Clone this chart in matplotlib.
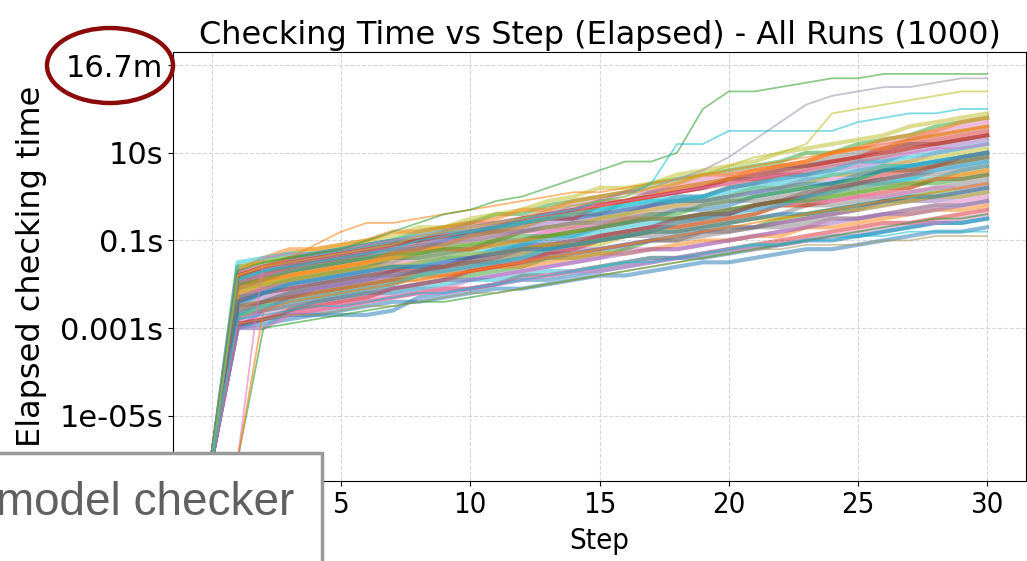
import matplotlib
matplotlib.use('Agg')
import matplotlib.pyplot as plt
import numpy as np
from matplotlib.patches import Ellipse, Rectangle
from matplotlib.ticker import FuncFormatter, FixedLocator

# steps 0..30; each run is elapsed checking time in tenths of log10(seconds)
steps = list(range(31))

band_runs = [
    [-60, -30, -29, -28, -27, -26, -25, -24, -24, -23, -22, -21, -21, -20, -19, -18, -18, -17, -16, -15, -15, -14, -13, -12, -12, -11, -10, -9, -8, -8, -7],
    [-60, -29, -28, -27, -26, -25, -24, -23, -22, -21, -21, -20, -18, -18, -17, -16, -15, -14, -14, -13, -12, -11, -10, -9, -8, -7, -6, -6, -5, -4, -3],
    [-60, -28, -27, -26, -25, -24, -23, -22, -21, -21, -19, -18, -17, -16, -15, -14, -12, -12, -12, -11, -10, -9, -8, -7, -5, -5, -4, -3, -2, -1, 0],
    [-60, -30, -30, -26, -24, -23, -22, -22, -21, -20, -19, -19, -18, -17, -17, -16, -15, -14, -14, -13, -12, -11, -11, -10, -9, -9, -8, -7, -6, -6, -5],
    [-60, -27, -26, -25, -24, -23, -22, -21, -20, -19, -18, -17, -16, -14, -14, -13, -12, -10, -9, -8, -7, -7, -5, -4, -3, -2, -1, 0, 1, 2, 3],
    [-60, -26, -25, -24, -23, -22, -21, -20, -18, -18, -17, -16, -15, -14, -13, -12, -11, -10, -10, -8, -8, -7, -6, -5, -4, -3, -1, -1, 0, 1, 2],
    [-60, -28, -25, -23, -22, -21, -20, -19, -18, -17, -16, -15, -13, -12, -11, -11, -9, -8, -7, -6, -5, -4, -2, -2, 0, 1, 2, 2, 4, 5, 6],
    [-60, -25, -24, -23, -22, -21, -20, -19, -19, -18, -17, -16, -16, -15, -14, -13, -13, -12, -11, -10, -10, -9, -9, -7, -7, -6, -5, -4, -3, -3, -2],
    [-60, -24, -23, -22, -21, -20, -19, -18, -17, -15, -14, -13, -11, -11, -10, -9, -8, -7, -5, -4, -4, -2, -1, 0, 1, 3, 4, 5, 6, 7, 8],
    [-60, -26, -24, -22, -21, -20, -19, -17, -17, -16, -15, -14, -13, -12, -11, -10, -9, -9, -8, -7, -6, -5, -4, -2, -2, -1, 0, 1, 2, 3, 4],
    [-60, -23, -22, -21, -20, -19, -18, -17, -15, -14, -14, -12, -11, -10, -9, -7, -6, -5, -3, -3, -2, 0, 1, 2, 3, 4, 6, 7, 8, 9, 10],
    [-60, -24, -22, -21, -20, -19, -18, -17, -16, -16, -14, -13, -12, -11, -11, -9, -8, -7, -7, -6, -5, -4, -2, -2, -1, 0, 1, 2, 4, 4, 5],
    [-60, -22, -21, -20, -19, -18, -17, -16, -14, -13, -12, -10, -10, -8, -7, -6, -5, -3, -2, -1, 0, 1, 2, 4, 4, 6, 7, 8, 10, 11, 12],
    [-60, -25, -22, -20, -19, -18, -17, -16, -16, -14, -13, -12, -11, -9, -9, -8, -7, -6, -5, -5, -3, -2, -1, 0, 1, 3, 3, 4, 4, 6, 7],
    [-60, -21, -20, -19, -18, -17, -16, -14, -14, -13, -12, -11, -10, -9, -8, -7, -6, -4, -4, -2, -1, 0, 1, 2, 3, 4, 6, 6, 7, 8, 9],
    [-60, -23, -21, -19, -18, -17, -16, -15, -13, -12, -12, -10, -8, -7, -6, -5, -4, -2, -1, 0, 2, 3, 5, 5, 7, 8, 9, 11, 12, 13, 14],
    [-60, -20, -19, -18, -17, -16, -15, -14, -13, -11, -11, -10, -8, -7, -7, -5, -4, -3, -2, -1, 0, 2, 2, 3, 5, 5, 7, 8, 9, 10, 11],
    [-60, -22, -20, -18, -17, -16, -15, -14, -12, -12, -12, -11, -10, -9, -8, -7, -5, -5, -5, -4, -3, -2, -1, -1, 1, 2, 3, 3, 4, 5, 6],
    [-60, -19, -18, -17, -16, -15, -14, -13, -12, -10, -9, -8, -8, -6, -5, -4, -3, -2, 0, 0, 2, 3, 4, 5, 6, 7, 8, 10, 11, 12, 13],
    [-60, -21, -19, -17, -16, -15, -14, -13, -11, -10, -8, -8, -6, -5, -4, -4, -1, 0, 1, 2, 4, 5, 7, 7, 9, 10, 11, 13, 14, 15, 16],
    [-60, -18, -17, -16, -15, -14, -13, -12, -12, -10, -9, -8, -7, -5, -5, -4, -3, -2, -1, -1, 0, 1, 2, 3, 3, 5, 6, 7, 8, 9, 10],
    [-60, -20, -18, -16, -15, -14, -13, -11, -10, -9, -8, -7, -6, -5, -5, -2, -1, 0, 1, 2, 4, 5, 6, 7, 8, 9, 11, 12, 13, 14, 15],
    [-60, -17, -16, -15, -14, -13, -12, -11, -9, -8, -6, -6, -5, -3, -2, -1, 1, 1, 3, 4, 5, 6, 7, 8, 10, 11, 12, 13, 15, 16, 17],
    [-60, -19, -17, -15, -14, -13, -12, -11, -10, -10, -8, -7, -6, -5, -3, -3, -2, -1, 0, 0, 2, 3, 4, 5, 6, 8, 8, 9, 10, 11, 12],
    [-60, -16, -15, -14, -13, -12, -11, -10, -8, -7, -6, -4, -4, -2, -1, 0, 1, 3, 4, 5, 6, 7, 8, 10, 10, 12, 13, 14, 16, 17, 18],
    [-60, -18, -16, -14, -13, -12, -11, -10, -10, -8, -7, -6, -5, -4, -3, -1, -1, 1, 2, 3, 4, 4, 6, 7, 8, 9, 10, 12, 12, 13, 14],
    [-60, -16, -15, -13, -12, -11, -10, -9, -7, -7, -5, -4, -3, -1, 0, 2, 2, 3, 5, 6, 7, 8, 10, 11, 12, 13, 14, 16, 17, 18, 19],
    [-60, -17, -14, -12, -12, -11, -10, -8, -8, -7, -6, -5, -3, -3, -1, 0, 1, 2, 3, 5, 5, 6, 7, 8, 10, 11, 11, 13, 14, 15, 16],
    [-60, -30, -26, -23, -21, -20, -19, -18, -17, -17, -16, -15, -14, -13, -12, -12, -11, -10, -9, -8, -7, -7, -6, -5, -4, -3, -2, -1, -1, 0, 1],
    [-60, -27, -24, -22, -20, -19, -18, -18, -17, -16, -15, -15, -14, -13, -13, -12, -11, -10, -10, -9, -8, -7, -7, -6, -5, -5, -4, -3, -2, -2, -1],
    [-60, -30, -28, -27, -27, -27, -27, -26, -23, -22, -21, -20, -19, -19, -18, -17, -16, -15, -14, -14, -13, -12, -11, -10, -10, -9, -8, -7, -6, -6, -5],
    [-60, -29, -28, -26, -25, -24, -23, -21, -20, -19, -17, -16, -15, -13, -12, -10, -9, -8, -6, -5, -4, -2, -1, 0, 2, 3, 5, 6, 7, 9, 10],
    [-60, -17, -16, -15, -14, -13, -12, -12, -11, -10, -10, -9, -8, -8, -7, -7, -6, -5, -5, -4, -3, -3, -2, -1, -1, 0, 0, 1, 2, 2, 3],
    [-60, -27, -25, -24, -23, -22, -21, -20, -18, -17, -16, -15, -14, -12, -11, -10, -9, -8, -6, -5, -4, -3, -2, 0, 1, 2, 3, 4, 6, 7, 8],
    [-60, -20, -19, -17, -16, -15, -14, -13, -13, -12, -11, -10, -9, -9, -8, -7, -6, -5, -5, -4, -3, -2, -1, -1, 0, 1, 2, 3, 3, 4, 5],
    [-60, -25, -24, -23, -22, -21, -20, -19, -17, -16, -15, -14, -12, -11, -10, -9, -8, -7, -5, -4, -4, -2, -1, 1, 2, 3, 4, 5, 7, 8, 9],
    [-60, -22, -20, -19, -18, -17, -16, -16, -15, -14, -13, -13, -12, -11, -11, -10, -9, -8, -8, -7, -6, -5, -5, -4, -3, -3, -2, -1, 0, 0, 1],
    [-60, -21, -19, -18, -17, -16, -15, -13, -12, -11, -9, -8, -7, -5, -4, -2, -1, 0, 2, 3, 4, 6, 7, 8, 10, 11, 13, 14, 15, 17, 18],
    [-60, -28, -26, -25, -24, -23, -22, -21, -20, -19, -19, -18, -17, -16, -15, -14, -13, -12, -12, -11, -10, -9, -8, -7, -6, -5, -4, -4, -3, -2, -1],
    [-60, -19, -17, -16, -15, -14, -13, -12, -11, -11, -10, -9, -8, -7, -6, -6, -5, -4, -3, -2, -1, -1, 0, 1, 2, 3, 4, 5, 5, 6, 7],
    [-60, -24, -22, -20, -19, -18, -17, -16, -16, -15, -14, -13, -12, -12, -11, -10, -9, -8, -8, -7, -6, -5, -4, -4, -3, -2, -1, 0, 0, 1, 2],
    [-60, -18, -16, -15, -14, -13, -12, -11, -10, -9, -8, -7, -5, -4, -3, -2, -1, 0, 1, 2, 3, 4, 5, 6, 8, 9, 10, 11, 12, 13, 14],
    [-60, -30, -30, -27, -26, -25, -24, -23, -22, -22, -21, -20, -19, -18, -17, -17, -16, -15, -14, -13, -12, -12, -11, -10, -9, -8, -7, -6, -6, -5, -4],
    [-60, -15, -14, -13, -13, -12, -11, -10, -9, -8, -8, -7, -6, -5, -4, -3, -2, -1, -1, 0, 1, 2, 3, 4, 5, 6, 7, 7, 8, 9, 10],
]

# runs whose first step was still near zero
late_runs = [
    [-60, -60, -30, -29, -28, -27, -26, -25, -24, -24, -23, -22, -21, -20, -19, -18, -17, -16, -15, -14, -13, -12, -11, -10, -9, -8, -7, -6, -5, -5, -4],
    [-60, -60, -14, -13, -13, -12, -11, -10, -9, -8, -7, -6, -5, -4, -3, -2, -1, 0, 1, 2, 3, 4, 5, 6, 7, 8, 9, 10, 11, 11, 12],
    [-60, -60, -26, -24, -23, -22, -21, -20, -19, -18, -17, -16, -15, -14, -13, -12, -11, -10, -9, -8, -7, -6, -5, -4, -3, -2, -1, 0, 1, 2, 3],
]
late_colors = ['#2ca02c', '#e377c2', '#ff7f0e']

# runs that stand out of the band
outlier_runs = [
    [-60, -18, -16, -14, -11, -8, -6, -6, -5, -4, -3, -2, -1, 0, 1, 1, 2, 3, 4, 5, 6, 7, 8, 9, 10, 11, 12, 13, 14, 15, 16],
    [-60, -17, -15, -14, -13, -12, -10, -8, -6, -4, -3, -1, 0, 2, 4, 6, 8, 8, 10, 20, 24, 24, 25, 26, 27, 27, 28, 28, 28, 28, 28],
    [-60, -20, -18, -17, -15, -14, -13, -12, -10, -9, -8, -6, -5, -4, -2, -1, 1, 2, 4, 6, 9, 13, 17, 21, 23, 24, 25, 25, 26, 27, 27],
    [-60, -19, -17, -16, -15, -14, -13, -12, -10, -9, -8, -7, -5, -4, -3, -1, 0, 3, 12, 12, 15, 15, 15, 15, 15, 17, 18, 19, 19, 20, 20],
    [-60, -18, -16, -15, -14, -13, -12, -11, -9, -8, -7, -6, -5, -3, -2, -1, 0, 2, 3, 5, 7, 9, 10, 12, 19, 20, 21, 22, 23, 24, 24],
    [-60, -29, -28, -27, -27, -26, -25, -25, -24, -23, -22, -22, -21, -20, -19, -18, -17, -16, -15, -14, -13, -12, -12, -11, -11, -11, -10, -10, -9, -9, -9],
    [-60, -28, -27, -26, -25, -25, -24, -23, -22, -22, -21, -20, -19, -18, -17, -16, -15, -15, -14, -13, -12, -11, -11, -10, -10, -9, -9, -8, -8, -8, -8],
]
outlier_colors = ['#ff7f0e', '#2ca02c', '#9a8fa8', '#17becf', '#bcbd22', '#a89a5a', '#17becf']

ytick_values = [1e-5, 1e-3, 1e-1, 10, 1000]


def fmt_seconds(v, pos):
    if v >= 60:
        return f'{v / 60:.1f}m'
    return f'{v:g}s'


fig = plt.figure(figsize=(10.27, 5.61), dpi=100)
ax = fig.add_axes([173 / 1027, 80 / 561, 853 / 1027, 429 / 561])

colors = plt.rcParams['axes.prop_cycle'].by_key()['color']
for i, run in enumerate(band_runs):
    secs = 10 ** (np.array(run) / 10.0)
    ax.plot(steps, secs, color=colors[(i * 3) % len(colors)], lw=3.0, alpha=0.5)
for run, c in zip(late_runs, late_colors):
    ax.plot(steps, 10 ** (np.array(run) / 10.0), color=c, lw=1.3, alpha=0.6)
for run, c in zip(outlier_runs, outlier_colors):
    ax.plot(steps, 10 ** (np.array(run) / 10.0), color=c, lw=1.3, alpha=0.55)

ax.set_yscale('log')
ax.set_ylim(10 ** -6.49, 10 ** 3.3)
ax.set_xlim(-1.5, 31.5)
ax.yaxis.set_major_locator(FixedLocator(ytick_values))
ax.yaxis.set_minor_locator(FixedLocator([]))
ax.yaxis.set_major_formatter(FuncFormatter(fmt_seconds))
ax.set_xticks(range(0, 31, 5))
ax.grid(True, linestyle='--', color='#cccccc', linewidth=0.8, alpha=0.8)

ax.tick_params(axis='y', labelsize=22)
ax.tick_params(axis='x', labelsize=21)
for lab in ax.get_xticklabels():
    lab.set_fontstretch('condensed')
ax.set_title('Checking Time vs Step (Elapsed) - All Runs (1000)', fontsize=23, pad=6)
ax.set_xlabel('Step', fontsize=21, fontstretch='condensed', labelpad=6)
ax.set_ylabel('Elapsed checking time', fontsize=23, labelpad=9)

# overlay annotations drawn on top of the chart
box = Rectangle((-10 / 1027, -0.1), 332 / 1027, 0.1 + 108 / 561,
                transform=fig.transFigure, facecolor='white',
                edgecolor='#9a9a9a', linewidth=2.5, zorder=10)
fig.patches.append(box)
fig.text(-4 / 1027, 1 - 515 / 561, 'model checker', fontsize=33,
         family='Liberation Sans', color='#606060', zorder=11)
ring = Ellipse((110 / 1027, 1 - 65.5 / 561), 126 / 1027, 75 / 561,
               transform=fig.transFigure, fill=False,
               edgecolor='#8b0a0a', linewidth=3.2, zorder=10)
fig.patches.append(ring)

fig.savefig('out.png', dpi=100)
